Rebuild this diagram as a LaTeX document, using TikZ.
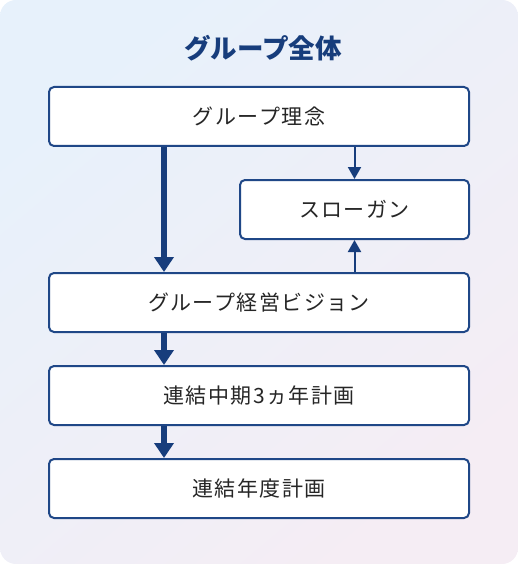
\documentclass[tikz,border=0pt]{standalone}
\usepackage{fontspec}
\setmainfont{Noto Sans CJK JP}
\newfontfamily\boxfont[LetterSpace=7]{Noto Sans CJK JP}
\usetikzlibrary{arrows.meta, positioning}
\definecolor{navy}{HTML}{173D7C}
\definecolor{boxline}{HTML}{1F4787}
\definecolor{ink}{HTML}{262626}
\definecolor{bgA}{HTML}{E7F1FB}
\definecolor{bgB}{HTML}{F5EDF4}

\begin{document}
\begin{tikzpicture}[x=1pt, y=-1pt, >=Stealth]
  % Define styles
  \tikzstyle{planbox} = [rectangle, rounded corners=5pt, minimum width=420pt, minimum height=59pt, text centered, draw=boxline, line width=2pt, fill=white, text=ink, font=\boxfont\fontsize{21}{21}\selectfont]
  \tikzstyle{slogan} = [planbox, minimum width=229pt]
  \tikzstyle{bigarrow} = [draw=navy, line width=6pt, -{Triangle[width=19pt, length=15pt]}]
  \tikzstyle{smallarrow} = [draw=navy, line width=2pt, -{Triangle[width=13pt, length=12pt]}]

  % Background
  \useasboundingbox (0,0) rectangle (518,564);
  \shade[rounded corners=16pt, left color=bgB, right color=bgA, shading angle=-140] (0,0) rectangle (518,564);

  % Place nodes
  \node [text=navy, font=\fontsize{26.5}{26.5}\selectfont\bfseries] (title) at (263,48) {グループ全体};
  \node [planbox] (philosophy) at (259,116.5) {グループ理念};
  \node [slogan] (slogan) at (354.5,209.5) {スローガン};
  \node [planbox] (vision) at (259,302.5) {グループ経営ビジョン};
  \node [planbox, below=32pt of vision] (midterm) {連結中期3ヵ年計画};
  \node [planbox, below=32pt of midterm] (annual) {連結年度計画};

  % Draw edges
  \path [bigarrow] (philosophy.south -| 164,0) -- (vision.north -| 164,0);
  \path [bigarrow] (vision.south -| 164,0) -- (midterm.north -| 164,0);
  \path [bigarrow] (midterm.south -| 164,0) -- (annual.north -| 164,0);
  \path [smallarrow] (philosophy.south -| slogan) -- (slogan.north);
  \path [smallarrow] (vision.north -| slogan) -- (slogan.south);
\end{tikzpicture}
\end{document}
